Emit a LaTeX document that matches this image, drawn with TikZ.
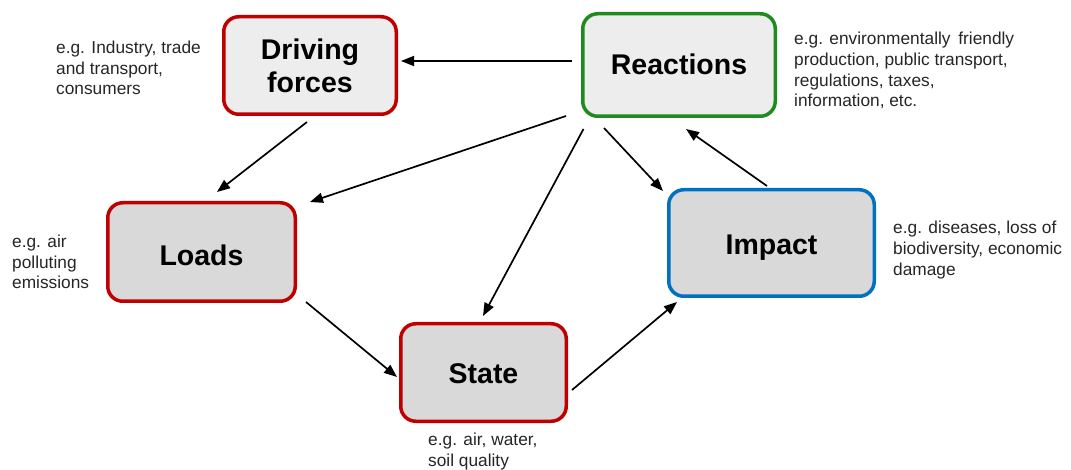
\documentclass[tikz,border=0pt]{standalone}
\usepackage{fontspec}
\setmainfont{Liberation Sans}
\usetikzlibrary{arrows.meta,calc}
\definecolor{boxred}{HTML}{C00000}
\definecolor{boxgreen}{HTML}{1F8A1F}
\definecolor{boxblue}{HTML}{0070C0}
\definecolor{lightfill}{HTML}{EDEDED}
\definecolor{darkfill}{HTML}{D9D9D9}
\definecolor{notegray}{HTML}{262626}

\begin{document}
\begin{tikzpicture}[x=1pt,y=-1pt,
  stage/.style={draw, line width=3.5pt, rounded corners=15pt, align=center,
    font=\fontsize{28.5}{33}\selectfont\bfseries, inner sep=0pt},
  one line/.style={text height=#1, text depth=0pt},
  note/.style={anchor=west, align=left, inner sep=0pt,
    font=\fontsize{17.3}{20.7}\selectfont, text=notegray},
  arr/.style={line width=1.7pt, -{Triangle[length=13pt,width=10pt]}}]
\useasboundingbox (0,0) rectangle (1071,470);
\fill[white] (0,0) rectangle (1071,470);

% stages of the cycle
\node[stage, draw=boxred, fill=lightfill, minimum width=172.5pt, minimum height=97.5pt]
  (drive) at (310,65.5) {Driving\\forces};
\node[stage, one line=18.4pt, draw=boxgreen, fill=lightfill, minimum width=192.5pt, minimum height=102.5pt]
  (react) at (679,65) {Reactions};
\node[stage, one line=27.4pt, draw=boxred, fill=darkfill, minimum width=187.5pt, minimum height=98.5pt]
  (loads) at (201.5,252) {Loads};
\node[stage, one line=22.4pt, draw=boxblue, fill=darkfill, minimum width=205.5pt, minimum height=106.5pt]
  (impact) at (771.5,243) {Impact};
\node[stage, one line=21.4pt, draw=boxred, fill=darkfill, minimum width=165.5pt, minimum height=97.5pt]
  (state) at (483.5,372.5) {State};

% examples beside each stage
\node[note] (ndrive) at (56,68) {e.g. Industry, trade\\and transport,\\consumers};
\node[note] (nreact) at (794,70.5) {e.g. environmentally\hspace{0.45em}friendly\\production, public transport,\\regulations, taxes,\\information, etc.};
\node[note] (nloads) at (12,262) {e.g. air\\polluting\\emissions};
\node[note] (nimpact) at (893,250) {e.g. diseases, loss of\\biodiversity, economic\\damage};
\node[note] (nstate) at (428,451.5) {e.g. air, water,\\soil quality};

% connectors
\draw[arr] ([shift={(-107,-4)}]react.center) -- ([shift={(91,-4.5)}]drive.center);
\draw[arr] ([shift={(-3,56.5)}]drive.center) -- ([shift={(15.5,-60)}]loads.center);
\draw[arr] ([shift={(-113,51)}]react.center) -- ([shift={(108.5,-50)}]loads.center);
\draw[arr] ([shift={(-95.5,64)}]react.center) -- ([shift={(-0.5,-56.5)}]state.center);
\draw[arr] ([shift={(-75,63)}]react.center) -- ([shift={(-108.5,-52)}]impact.center);
\draw[arr] ([shift={(-4.5,-57)}]impact.center) -- ([shift={(7,64)}]react.center);
\draw[arr] ([shift={(104.5,50)}]loads.center) -- ([shift={(-86.5,4.5)}]state.center);
\draw[arr] ([shift={(88.5,17.5)}]state.center) -- ([shift={(-94.5,59)}]impact.center);
\end{tikzpicture}
\end{document}
